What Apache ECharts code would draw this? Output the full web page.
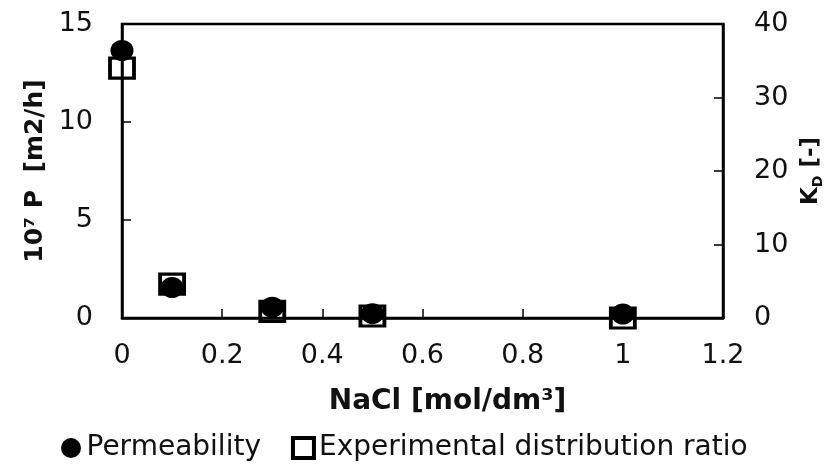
<!DOCTYPE html>
<html>
<head>
<meta charset="utf-8">
<script src="https://cdn.jsdelivr.net/npm/echarts@6/dist/echarts.min.js"></script>
<style>
  html, body { margin: 0; padding: 0; background: #fff; }
  #chart { width: 834px; height: 464px; }
</style>
</head>
<body>
<div id="chart"></div>
<script>
// NaCl 浓度 (x)
const naclConc = [0, 0.1, 0.3, 0.5, 1];
// 左轴: 10^7 P [m2/h]
const permeability = [13.65, 1.55, 0.55, 0.22, 0.2];
// 右轴: K_D [-]
const distRatio = [34, 4.6, 0.9, 0.27, 0];

const seriesNames = ['Permeability', 'Experimental distribution ratio'];

(function () {
    let myEchart = echarts.init(document.getElementById('chart'));
    const font = 'DejaVu Sans';
    let axisLine = { lineStyle: { color: '#000', width: 2.5 } };
    let axisTick = { inside: true, length: 9, lineStyle: { color: '#000', width: 1.5 } };
    let label = { color: '#111', fontSize: 27, fontFamily: font };

    let option = {
        animation: false,
        backgroundColor: '#fff',
        grid: {
            left: 122,
            right: 111,
            top: 24,
            bottom: 146,
            show: true,
            borderColor: '#000',
            borderWidth: 2.5
        },
        legend: {
            left: 56,
            top: 429,
            itemWidth: 21,
            itemHeight: 20,
            itemGap: 30,
            textStyle: { color: '#111', fontSize: 28, fontFamily: font, lineHeight: 28 },
            data: [
                { name: seriesNames[0], icon: 'circle', itemStyle: { color: '#000' } },
                { name: seriesNames[1], icon: 'rect', itemStyle: { color: '#fff', borderColor: '#000', borderWidth: 4 } }
            ]
        },
        xAxis: {
            type: 'value',
            min: 0,
            max: 1.2,
            interval: 0.2,
            name: 'NaCl [mol/dm³]',
            nameLocation: 'middle',
            nameGap: 70,
            nameTextStyle: { color: '#111', fontSize: 28, fontWeight: 'bold', fontFamily: font, padding: [0, 0, 0, 50] },
            axisLine: axisLine,
            axisTick: axisTick,
            axisLabel: Object.assign({ margin: 24 }, label),
            splitLine: { show: false }
        },
        yAxis: [
            {
                type: 'value',
                position: 'left',
                min: 0,
                max: 15,
                interval: 5,
                name: '10⁷ P  [m2/h]',
                nameLocation: 'middle',
                nameRotate: 90,
                nameGap: 74,
                nameTextStyle: { color: '#111', fontSize: 25, fontWeight: 'bold', fontFamily: font },
                axisLine: axisLine,
                axisTick: axisTick,
                axisLabel: Object.assign({ margin: 29 }, label),
                splitLine: { show: false }
            },
            {
                type: 'value',
                position: 'right',
                min: 0,
                max: 40,
                interval: 10,
                name: '{k|K}{d|D}{k| [-]}',
                nameLocation: 'middle',
                nameRotate: 90,
                nameGap: 70,
                nameTextStyle: {
                    rich: {
                        k: { color: '#111', fontSize: 23, fontWeight: 'bold', fontFamily: font, lineHeight: 30 },
                        d: { color: '#111', fontSize: 14, fontWeight: 'bold', fontFamily: font, lineHeight: 30, verticalAlign: 'bottom' }
                    }
                },
                axisLine: axisLine,
                axisTick: axisTick,
                axisLabel: Object.assign({ margin: 31 }, label),
                splitLine: { show: false }
            }
        ],
        series: [
            {
                name: seriesNames[0],
                type: 'scatter',
                yAxisIndex: 0,
                clip: false,
                symbol: 'circle',
                symbolSize: [23, 21],
                itemStyle: { color: '#000', opacity: 1 },
                data: naclConc.map(function (x, i) { return [x, permeability[i]]; })
            },
            {
                name: seriesNames[1],
                type: 'scatter',
                yAxisIndex: 1,
                clip: false,
                symbol: 'rect',
                symbolSize: [24, 20],
                itemStyle: { color: 'transparent', borderColor: '#000', borderWidth: 3.5, opacity: 1 },
                data: naclConc.map(function (x, i) { return [x, distRatio[i]]; })
            }
        ]
    };
    myEchart.setOption(option);
    window.addEventListener('resize', function () {
        myEchart.resize();
    })
})();
</script>
</body>
</html>
